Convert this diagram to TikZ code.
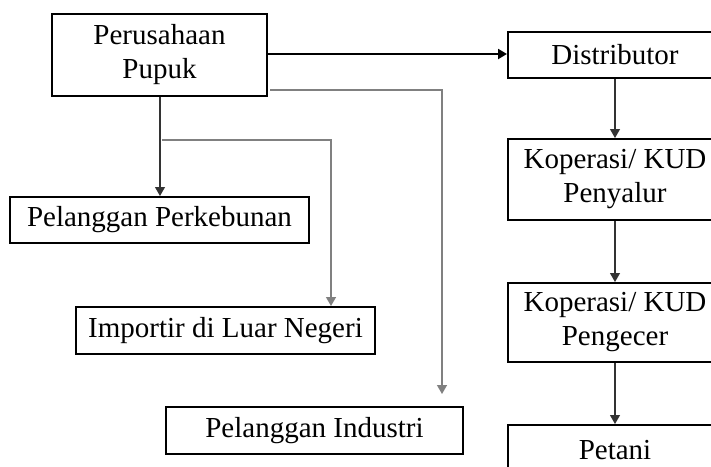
\documentclass[tikz,border=0pt]{standalone}
\usepackage{fontspec}
\setmainfont{Liberation Serif}
\usetikzlibrary{arrows.meta}
\begin{document}
\begin{tikzpicture}[x=1pt,y=-1pt,
  box/.style={draw=black,line width=2pt,minimum height=46pt,inner sep=0pt,
    font=\fontsize{29}{34}\selectfont,align=center},
  tall/.style={box,minimum height=81pt},
  tip/.tip={Triangle[width=10pt,length=9pt]},
  main/.style={draw=black,line width=2pt,-tip},
  thin/.style={draw=black!80,line width=1.1pt,-tip},
  grayl/.style={draw=black!50,line width=1.3pt,-tip}]
\clip (0,0) rectangle (711,466);
\fill[white] (0,0) rectangle (711,466);
\node[tall,minimum width=215pt,minimum height=82pt] (perus) at (159.5,55) {Perusahaan\\Pupuk};
\node[box,minimum width=214pt] (dist) at (615,55) {Distributor};
\node[tall,minimum width=214pt] (kop1) at (615,179.5) {Koperasi/ KUD\\Penyalur};
\node[tall,minimum width=214pt,minimum height=79pt] (kop2) at (615,322.5) {Koperasi/ KUD\\Pengecer};
\node[tall,minimum width=214pt,minimum height=90pt] (petani) at (615,470) {};
\node[font=\fontsize{29}{34}\selectfont,inner sep=0pt,anchor=base] (petanit) at (615,459) {Petani};
\node[box,minimum width=299pt] (perkeb) at (159.5,220) {Pelanggan Perkebunan};
\node[box,minimum width=299pt,minimum height=47pt] (importir) at (225.5,330.5) {Importir di Luar Negeri};
\node[box,minimum width=297pt,minimum height=47pt] (industri) at (314.5,430.5) {Pelanggan Industri};
\coordinate (c1) at (162,140);
\coordinate (c2) at (270,90);
\draw[main] (perus.east |- 0,54) -- (dist.west |- 0,54);
\draw[thin] (perus.south -| 160,0) -- (perkeb.north -| 160,0);
\draw[grayl] (c1) -- (331,140) -- (importir.north -| 331,0);
\draw[grayl] (c2) -- (442,90) -- (442,394);
\draw[thin] (dist.south) -- (kop1.north);
\draw[thin] (kop1.south) -- (kop2.north);
\draw[thin] (kop2.south) -- (petani.north);
\end{tikzpicture}
\end{document}
